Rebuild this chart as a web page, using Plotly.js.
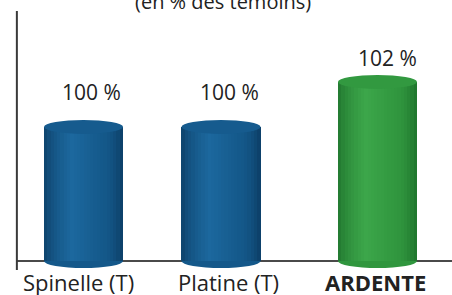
<!DOCTYPE html>
<html>
<head>
<meta charset="utf-8">
<script src="https://cdn.plot.ly/plotly-3.0.1.min.js"></script>
<style>html,body{margin:0;padding:0;background:#fff;}#chart{width:452px;height:295px;}</style>
</head>
<body>
<div id="chart"></div>
<script>
// ---- data ----
const categories = ['Spinelle (T)', 'Platine (T)', 'ARDENTE'];
const tickLabels = ['Spinelle (T)', 'Platine (T)', '<b>ARDENTE</b>'];
const values = [100, 100, 102];
const valueLabels = ['100 %', '100 %', '102 %'];
const subtitle = '(en % des témoins)';

// ---- layout / style constants ----
const slotX = [0, 1, 2.138];
const baseVal = 94.04;
const barW = 0.575;
const labelYShift = [19, 19, 8];
const labelXShift = [8, 8, 10];
const catXShift = [-5, 7, -2];
const palettes = [
  {dark:[12,62,102], mid:[20,88,138], light:[28,104,158]},
  {dark:[12,62,102], mid:[20,88,138], light:[28,104,158]},
  {dark:[30,115,44], mid:[48,150,62], light:[60,166,74]}
];
const FONT = 'Open Sans, sans-serif';

function mix(a,b,t){return a.map((v,i)=>Math.round(v+(b[i]-v)*t));}
function shade(p, u){
  let c;
  if (u < 0.35) c = mix(p.dark, p.light, Math.pow(u/0.35, 0.6));
  else if (u < 0.75) c = mix(p.light, p.mid, (u-0.35)/0.4);
  else c = mix(p.mid, p.dark, Math.pow((u-0.75)/0.25, 1.6));
  return 'rgb('+c.join(',')+')';
}

const N = 24;
const traces = [];
for (let i = 0; i < N; i++) {
  const u = (i + 0.5) / N;
  traces.push({
    type: 'bar',
    x: slotX,
    y: values.map(v => v - baseVal),
    base: baseVal,
    width: barW / N * 1.04,
    offset: -barW/2 + i * barW / N,
    marker: {color: palettes.map(p => shade(p, u)), line: {width: 0}},
    hoverinfo: 'skip',
    showlegend: false
  });
}

const shapes = [];
shapes.push({type:'line', xref:'paper', x0:0, x1:1, yref:'y', y0:baseVal, y1:baseVal,
  line:{color:'#4a4a4a', width:2}, layer:'below'});
shapes.push({type:'line', xref:'paper', x0:0.002, x1:0.002, yref:'paper', y0:0, y1:1,
  line:{color:'#3a3a3a', width:2}, layer:'below'});
values.forEach((v, k) => {
  const p = palettes[k];
  shapes.push({type:'circle', xref:'x', yref:'y', x0:slotX[k]-barW/2, x1:slotX[k]+barW/2,
    ysizemode:'pixel', yanchor:baseVal, y0:-7, y1:7,
    fillcolor:'rgb('+p.mid.join(',')+')', line:{width:0}, layer:'below'});
  shapes.push({type:'circle', xref:'x', yref:'y', x0:slotX[k]-barW/2, x1:slotX[k]+barW/2,
    ysizemode:'pixel', yanchor:v, y0:-7, y1:7,
    fillcolor:'rgb('+mix(p.mid,p.light,0.2).join(',')+')', line:{width:0}, layer:'above'});
});

const annotations = values.map((v, k) => ({
  x: slotX[k], y: v, xref:'x', yref:'y', text: valueLabels[k], showarrow:false,
  yanchor:'bottom', yshift: labelYShift[k], xshift: labelXShift[k],
  font:{family:FONT, size:21, color:'#222'}
}));
categories.forEach((c, k) => annotations.push({
  x: slotX[k], y: 0, xref:'x', yref:'paper', text: tickLabels[k], showarrow:false,
  yanchor:'top', yshift: 5, xshift: catXShift[k],
  font:{family:FONT, size:22, color:'#222'}
}));
annotations.push({x:0.475, y:1, xref:'paper', yref:'paper', text: subtitle, showarrow:false,
  yanchor:'bottom', yshift:-6, font:{family:FONT, size:20, color:'#222'}});

const plotBottomPx = 9;
const pxPerUnit = 22.5;
const layout = {
  width: 452, height: 295,
  margin: {l:16, r:0, t:11, b:25},
  paper_bgcolor:'#fff', plot_bgcolor:'#fff',
  barmode: 'overlay', bargap: 0,
  xaxis: {range:[-0.491, 2.68], showgrid:false, zeroline:false, showline:false,
    showticklabels:false, ticks:'', fixedrange:true},
  yaxis: {range:[baseVal - plotBottomPx/pxPerUnit, baseVal + 250/pxPerUnit], showgrid:false,
    zeroline:false, showline:false, showticklabels:false, ticks:'', fixedrange:true},
  shapes: shapes,
  annotations: annotations,
  showlegend:false
};
Plotly.newPlot('chart', traces, layout, {displayModeBar:false, staticPlot:true});
</script>
</body>
</html>
